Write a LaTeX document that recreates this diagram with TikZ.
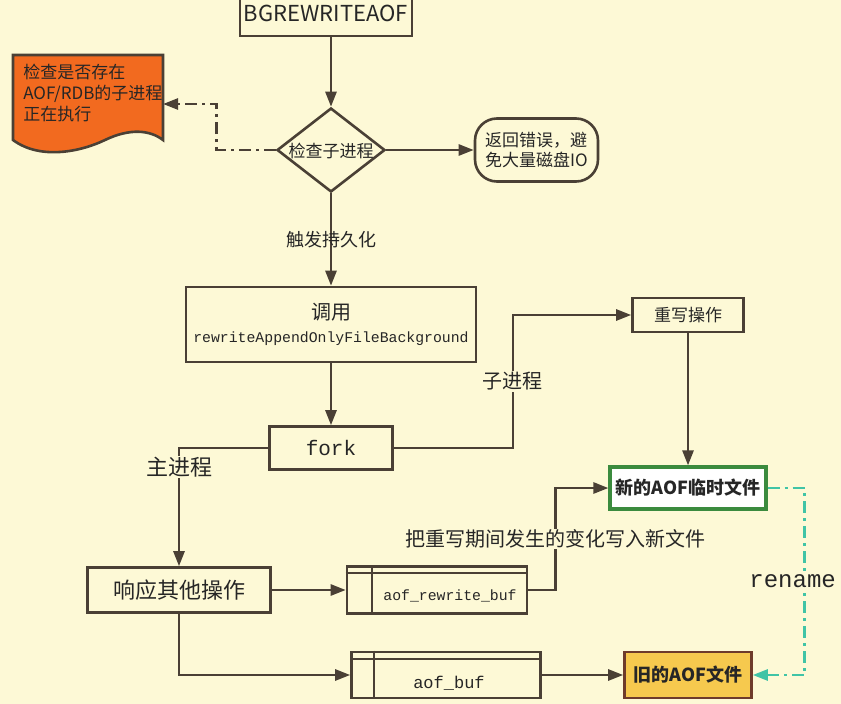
\documentclass[tikz,border=0pt]{standalone}
\usepackage{fontspec}
\setmainfont{Noto Sans CJK SC}
\setmonofont{Liberation Mono}
\usetikzlibrary{shapes.geometric,arrows.meta}

\definecolor{paper}{HTML}{FDF9D6}
\definecolor{ink}{HTML}{4A4035}
\definecolor{docorange}{HTML}{F26A1F}
\definecolor{oldyellow}{HTML}{F6C94E}
\definecolor{oldedge}{HTML}{6E3B2B}
\definecolor{newgreen}{HTML}{3B8B3E}
\definecolor{renteal}{HTML}{40C4A6}

\begin{document}
\begin{tikzpicture}[x=1pt,y=-1pt,line width=2.6pt,text=black!85,
    box/.style={draw=ink,fill=paper,rectangle,inner sep=0pt},
    flow/.style={draw=ink,-{Triangle[length=15pt,width=11pt]}},
    dashdot/.style={dash pattern=on 12pt off 5pt on 3pt off 5pt},
    lbl/.style={fill=paper,inner sep=1pt},
    cjk/.style={font=\fontsize{#1}{#1}\selectfont},
    cjkb/.style={font=\fontsize{#1}{#1}\selectfont\bfseries},
    mono/.style={font=\ttfamily\fontsize{#1}{#1}\selectfont}]
    \clip (0,0) rectangle (841,704);
    \fill[paper] (0,0) rectangle (841,704);

    % top of the flow
    \node[box,minimum width=172,minimum height=46,cjk=22] (bgrw) at (326,13) {BGREWRITEAOF};
    \node[diamond,draw=ink,fill=paper,inner sep=0pt,minimum width=108,minimum height=84] (chk) at (331,150) {};
    \node[cjk=17] (chkTxt) at (331,151) {检查子进程};
    \node[draw=ink,fill=paper,rounded corners=22pt,minimum width=123,minimum height=63,
          align=left,font=\fontsize{17}{20}\selectfont] (err) at (536.5,150) {返回错误，避\\免大量磁盘IO};

    % orange document
    \filldraw[draw=ink,fill=docorange] (13,55) -- (163,55) -- (163,140)
        .. controls (150,130) and (130,128) .. (105,140)
        .. controls (80,152) and (40,160) .. (13,140) -- cycle;
    \node[anchor=north west,align=left,inner sep=0pt,font=\fontsize{17}{21}\selectfont] (docTxt) at (22,63)
        {检查是否存在\\AOF/RDB的子进程\\正在执行};
    \coordinate (docR) at (163,104);

    % middle
    \node[box,minimum width=290,minimum height=75,align=center] (call) at (331,324.5)
        {{\fontsize{20}{20}\selectfont 调用}\\[9pt]{\ttfamily\fontsize{14.8}{15}\selectfont rewriteAppendOnlyFileBackground}};
    \node[box,minimum width=123,minimum height=43,mono=21] (fork) at (331,448) {fork};
    \node[box,minimum width=111,minimum height=34,cjk=17] (rw) at (688,315) {重写操作};
    \node[draw=newgreen,line width=3.2pt,fill=white,minimum width=156,minimum height=42,inner sep=0pt,
          cjkb=18] (newf) at (688,488) {新的AOF临时文件};

    % bottom
    \node[box,minimum width=183,minimum height=45,cjk=22] (resp) at (179,590) {响应其他操作};
    \node[box,minimum width=180,minimum height=47] (rbuf) at (437,590) {};
    \draw[ink,line width=1.8pt] ([xshift=26pt]rbuf.north west) -- ([xshift=26pt]rbuf.south west)
        ([yshift=-8pt]rbuf.north west) -- ([yshift=-8pt]rbuf.north east);
    \node[mono=14.8] (rbufTxt) at (450,596) {aof\_rewrite\_buf};
    \node[box,minimum width=189,minimum height=46] (abuf) at (446,675) {};
    \draw[ink,line width=1.8pt] ([xshift=24pt]abuf.north west) -- ([xshift=24pt]abuf.south west)
        ([yshift=-8pt]abuf.north west) -- ([yshift=-8pt]abuf.north east);
    \node[mono=17] (abufTxt) at (449,683) {aof\_buf};
    \node[draw=oldedge,fill=oldyellow,minimum width=127,minimum height=46,inner sep=0pt,
          cjkb=18] (old) at (688,675) {旧的AOF文件};

    % connectors
    \draw[flow] (bgrw.south -| chk.north) -- (chk.north);
    \draw[flow,dashdot] (chk.west) -- ++(-59,0) |- (docR);
    \draw[flow] (chk.east) -- (err.west);
    \draw[flow] (chk.south) -- node[cjk=18] (trig) {触发持久化} (call.north);
    \draw[flow] (call) -- (fork);
    \draw[flow] (fork.east) -- ++(119,0) |- node[lbl,pos=0.25,cjk=20] (child) {子进程} (rw.west);
    \draw[flow] (fork.west) -| node[lbl,pos=0.58,cjk=22] (main) {主进程} (resp.north);
    \draw[flow] (rw) -- (newf);
    \draw[flow] (resp) -- (rbuf);
    \draw[flow] (rbuf.east) -- ++(27,0) |- node[lbl,pos=0.25,cjk=20] (chg) {把重写期间发生的变化写入新文件} (newf.west);
    \draw[flow] (resp.south) |- (abuf.west);
    \draw[flow] (abuf) -- (old);
    \draw[flow,draw=renteal,dashdot,-{Triangle[length=15pt,width=11pt,fill=renteal]}] (newf.east) -- ++(37,0)
        |- node[lbl,pos=0.25,xshift=-12pt,mono=24,text=black!85] (ren) {rename} (old.east);
\end{tikzpicture}
\end{document}
